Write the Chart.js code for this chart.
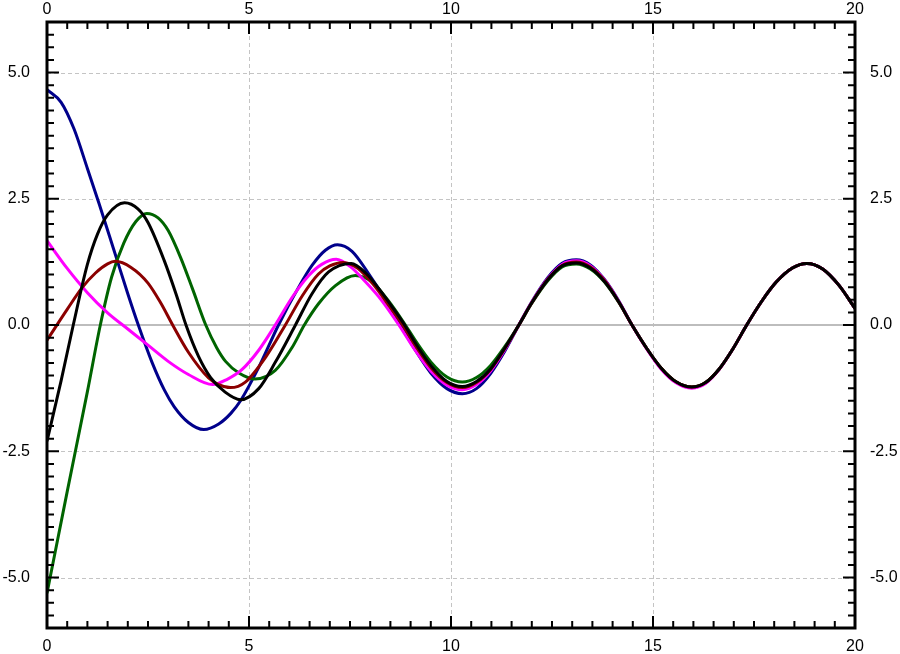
<!DOCTYPE html>
<html>
<head>
<meta charset="utf-8">
<script src="https://cdn.jsdelivr.net/npm/chart.js@4"></script>
<style>
  html, body { margin: 0; padding: 0; background: #fff; }
  #wrap { width: 900px; height: 654px; }
</style>
</head>
<body>
<div id="wrap"><canvas id="chart" width="900" height="654"></canvas></div>
<script>
// Points (peaks, zero crossings and points between)
const blueX = [0, 0.35, 0.67, 1.0, 1.29, 1.65, 2.0, 2.26, 2.6, 2.9, 3.15, 3.5, 3.88, 4.25, 4.55, 4.79, 5.24, 5.73,
    6.23, 6.56, 6.89, 7.19, 7.55, 8.0, 8.4, 8.75, 9.12, 9.5, 9.9, 10.28, 10.63, 10.98, 11.33, 11.68,
    12.0, 12.4, 12.75, 13.1, 13.45, 13.8, 14.15, 14.48, 14.85, 15.2, 15.58, 15.96, 16.3, 16.64, 16.98, 17.32,
    17.7, 18.05, 18.45, 18.81, 19.2, 19.6, 20];
const blueY = [4.66, 4.41, 3.88, 3.10, 2.40, 1.50, 0.62, 0, -0.74, -1.28, -1.62, -1.93, -2.07, -1.96, -1.75, -1.50, -0.84, 0,
    0.75, 1.18, 1.48, 1.59, 1.46, 0.97, 0.48, 0, -0.50, -0.95, -1.26, -1.36, -1.26, -0.96, -0.52, 0,
    0.46, 0.94, 1.22, 1.29, 1.19, 0.90, 0.48, 0, -0.47, -0.86, -1.14, -1.24, -1.15, -0.87, -0.47, 0,
    0.48, 0.85, 1.13, 1.22, 1.11, 0.79, 0.33];

const magentaX = [0, 0.5, 1.0, 1.5, 2.0, 2.5, 3.0, 3.5, 4.1, 4.45, 4.83, 5.24, 5.65, 6.07, 6.48, 6.8, 7.16, 7.5,
    7.9, 8.3, 8.71, 9.12, 9.5, 9.9, 10.28, 10.63, 10.98, 11.33, 11.68,
    12.0, 12.4, 12.75, 13.1, 13.45, 13.8, 14.15, 14.48, 14.85, 15.2, 15.58, 15.96, 16.3, 16.64, 16.98, 17.32,
    17.7, 18.05, 18.45, 18.81, 19.2, 19.6, 20];
const magentaY = [1.67, 1.12, 0.64, 0.24, -0.08, -0.40, -0.72, -0.98, -1.18, -1.08, -0.88, -0.50, 0, 0.55, 0.98, 1.20, 1.30, 1.16,
    0.84, 0.47, 0, -0.51, -0.91, -1.19, -1.28, -1.18, -0.91, -0.49, 0,
    0.45, 0.92, 1.20, 1.27, 1.17, 0.89, 0.47, 0, -0.48, -0.87, -1.15, -1.25, -1.16, -0.88, -0.47, 0,
    0.48, 0.85, 1.13, 1.22, 1.11, 0.79, 0.33];

const maroonX = [0, 0.5, 0.87, 1.2, 1.5, 1.69, 2.08, 2.5, 2.82, 3.11, 3.5, 4.0, 4.25, 4.54, 4.91, 5.41, 5.9, 6.32,
    6.72, 7.0, 7.33, 7.7, 8.1, 8.45, 8.8, 9.12, 9.5, 9.9, 10.28, 10.63, 10.98, 11.33, 11.68,
    12.0, 12.4, 12.75, 13.1, 13.45, 13.8, 14.15, 14.48, 14.85, 15.2, 15.58, 15.96, 16.3, 16.64, 16.98, 17.32,
    17.7, 18.05, 18.45, 18.81, 19.2, 19.6, 20];
const maroonY = [-0.30, 0.31, 0.74, 1.03, 1.21, 1.26, 1.14, 0.83, 0.43, 0, -0.54, -1.05, -1.18, -1.24, -1.13, -0.64, 0, 0.58,
    1.01, 1.17, 1.24, 1.12, 0.78, 0.40, 0, -0.41, -0.84, -1.14, -1.24, -1.14, -0.88, -0.47, 0,
    0.44, 0.91, 1.18, 1.25, 1.15, 0.88, 0.46, 0, -0.47, -0.85, -1.13, -1.23, -1.14, -0.87, -0.47, 0,
    0.48, 0.85, 1.13, 1.22, 1.11, 0.79, 0.33];

const blackX = [0, 0.35, 0.65, 1.0, 1.25, 1.5, 1.92, 2.25, 2.5, 2.9, 3.2, 3.44, 3.75, 4.05, 4.41, 4.79, 5.24, 5.65,
    6.15, 6.56, 6.97, 7.53, 7.9, 8.25, 8.55, 8.85, 9.12, 9.5, 9.9, 10.28, 10.63, 10.98, 11.33, 11.68,
    12.0, 12.4, 12.75, 13.1, 13.45, 13.8, 14.15, 14.48, 14.85, 15.2, 15.58, 15.96, 16.3, 16.64, 16.98, 17.32,
    17.7, 18.05, 18.45, 18.81, 19.2, 19.6, 20];
const blackY = [-2.30, -1.10, 0, 1.20, 1.80, 2.18, 2.42, 2.30, 2.03, 1.28, 0.60, 0, -0.62, -1.04, -1.33, -1.48, -1.26, -0.74,
    0, 0.62, 1.05, 1.22, 1.02, 0.68, 0.35, 0, -0.36, -0.80, -1.12, -1.22, -1.12, -0.87, -0.46, 0,
    0.44, 0.90, 1.17, 1.23, 1.13, 0.86, 0.46, 0, -0.47, -0.85, -1.13, -1.23, -1.14, -0.87, -0.47, 0,
    0.48, 0.85, 1.13, 1.22, 1.11, 0.79, 0.33];

const greenX = [0, 0.5, 1.0, 1.32, 1.6, 1.9, 2.2, 2.47, 2.75, 3.0, 3.31, 3.6, 3.93, 4.2, 4.42, 4.75, 5.15, 5.65,
    6.07, 6.37, 6.72, 7.14, 7.63, 8.05, 8.45, 8.87, 9.12, 9.5, 9.9, 10.28, 10.63, 10.98, 11.33, 11.68,
    12.0, 12.4, 12.75, 13.1, 13.45, 13.8, 14.15, 14.48, 14.85, 15.2, 15.58, 15.96, 16.3, 16.64, 16.98, 17.32,
    17.7, 18.05, 18.45, 18.81, 19.2, 19.6, 20];
const greenY = [-5.31, -3.30, -1.32, 0, 0.95, 1.62, 2.05, 2.21, 2.12, 1.87, 1.33, 0.72, 0, -0.45, -0.72, -0.95, -1.07, -0.90,
    -0.44, 0, 0.42, 0.78, 0.98, 0.85, 0.48, 0, -0.31, -0.73, -1.03, -1.13, -1.04, -0.80, -0.43, 0,
    0.43, 0.88, 1.15, 1.21, 1.11, 0.85, 0.45, 0, -0.47, -0.85, -1.13, -1.23, -1.14, -0.87, -0.47, 0,
    0.48, 0.85, 1.13, 1.22, 1.11, 0.79, 0.33];

// Tick labels on the axes
const xTickValues = [0, 5, 10, 15, 20];
const yTickValues = [-5, -2.5, 0, 2.5, 5];

const labelFont = { family: "'Liberation Sans', Arial, sans-serif", size: 16 };

// Pair up x and y lists into points
function toPoints(xs, ys) {
    return xs.map((x, i) => ({ x: x, y: ys[i] }));
}

function lineSet(xs, ys, color) {
    return {
        data: toPoints(xs, ys),
        borderColor: color,
        backgroundColor: color,
        borderWidth: 3,
        pointRadius: 0,
        cubicInterpolationMode: "monotone",
        tension: 0.4,
        fill: false
    };
}

function axisOptions(position, min, max, ticks, size, padding, format) {
    const horizontal = position === "top" || position === "bottom";
    return {
        type: "linear",
        position: position,
        min: min,
        max: max,
        afterBuildTicks: scale => { scale.ticks = ticks.map(v => ({ value: v })); },
        afterFit: scale => {
            if (horizontal) scale.height = size; else scale.width = size;
            // keep the plot box where the reference has it
            scale.paddingTop = 0;
            scale.paddingBottom = 0;
            scale.paddingLeft = 0;
            scale.paddingRight = 0;
        },
        grid: { display: false, drawTicks: false },
        border: { display: false },
        ticks: {
            padding: padding,
            color: "#000",
            font: labelFont,
            maxRotation: 0,
            autoSkip: false,
            callback: format
        }
    };
}

// Grid lines under the curves, frame and inward ticks over them
const framePlugin = {
    id: "frame",
    beforeDatasetsDraw(chart) {
        const { ctx, chartArea: a, scales } = chart;
        ctx.save();
        ctx.lineWidth = 1;
        ctx.strokeStyle = "#c4c4c4";
        ctx.setLineDash([4, 3]);
        xTickValues.forEach(v => {
            const px = Math.round(scales.x.getPixelForValue(v)) + 0.5;
            ctx.beginPath();
            ctx.moveTo(px, a.top);
            ctx.lineTo(px, a.bottom);
            ctx.stroke();
        });
        yTickValues.filter(v => v !== 0).forEach(v => {
            const py = Math.round(scales.y.getPixelForValue(v)) + 0.5;
            ctx.beginPath();
            ctx.moveTo(a.left, py);
            ctx.lineTo(a.right, py);
            ctx.stroke();
        });
        // zero line is solid
        ctx.setLineDash([]);
        ctx.lineWidth = 2;
        ctx.strokeStyle = "#bdbdbd";
        const zy = scales.y.getPixelForValue(0);
        ctx.beginPath();
        ctx.moveTo(a.left, zy);
        ctx.lineTo(a.right, zy);
        ctx.stroke();
        ctx.restore();
    },
    afterDatasetsDraw(chart) {
        const { ctx, chartArea: a, scales } = chart;
        ctx.save();
        ctx.strokeStyle = "#000";
        ctx.lineWidth = 2;
        // x ticks every 0.5, long at labelled values
        for (let i = 0; i <= 40; i++) {
            const v = i * 0.5;
            const len = xTickValues.includes(v) ? 12 : 7;
            const px = scales.x.getPixelForValue(v);
            ctx.beginPath();
            ctx.moveTo(px, a.top);
            ctx.lineTo(px, a.top + len);
            ctx.moveTo(px, a.bottom);
            ctx.lineTo(px, a.bottom - len);
            ctx.stroke();
        }
        // y ticks every 0.25
        for (let i = -24; i <= 24; i++) {
            const v = i * 0.25;
            const len = yTickValues.includes(v) ? 12 : 7;
            const py = scales.y.getPixelForValue(v);
            ctx.beginPath();
            ctx.moveTo(a.left, py);
            ctx.lineTo(a.left + len, py);
            ctx.moveTo(a.right, py);
            ctx.lineTo(a.right - len, py);
            ctx.stroke();
        }
        ctx.lineWidth = 3;
        ctx.strokeRect(a.left, a.top, a.right - a.left, a.bottom - a.top);
        ctx.restore();
    }
};

const chart = new Chart(document.getElementById("chart"), {
    type: "line",
    data: {
        datasets: [
            lineSet(blackX, blackY, "#000000"),
            lineSet(maroonX, maroonY, "#8b0000"),
            lineSet(magentaX, magentaY, "#ff00ff"),
            lineSet(greenX, greenY, "#006400"),
            lineSet(blueX, blueY, "#00008b")
        ]
    },
    options: {
        responsive: false,
        animation: false,
        layout: { padding: 0, autoPadding: false },
        plugins: {
            legend: { display: false },
            tooltip: { enabled: false }
        },
        scales: {
            x: axisOptions("bottom", 0, 20, xTickValues, 26, 9, v => String(v)),
            xTop: axisOptions("top", 0, 20, xTickValues, 22, 3, v => String(v)),
            y: axisOptions("left", -6, 6, yTickValues, 47, 17, v => v.toFixed(1)),
            yRight: axisOptions("right", -6, 6, yTickValues, 45, 15, v => v.toFixed(1))
        }
    },
    plugins: [framePlugin]
});
</script>
</body>
</html>
